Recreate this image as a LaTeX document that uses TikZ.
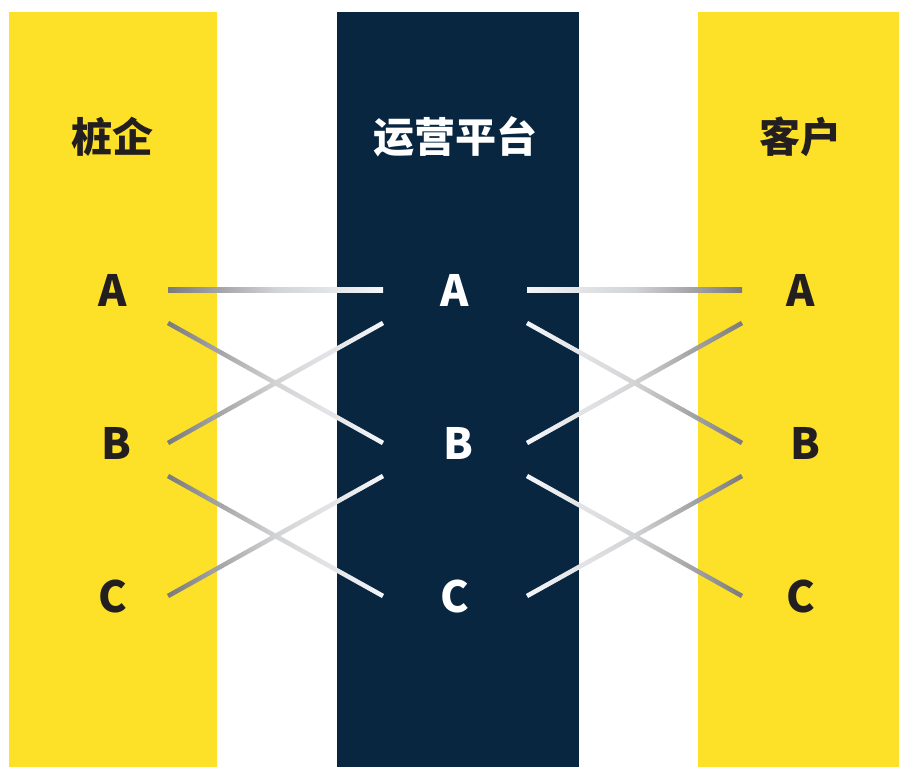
\documentclass[tikz,border=0pt]{standalone}
\usepackage{fontspec}
\newfontfamily\cjk{Noto Sans CJK SC}
\usetikzlibrary{calc}
\definecolor{ylw}{HTML}{FDE028}
\definecolor{navy}{HTML}{08263F}
\definecolor{ink}{HTML}{231F20}
\definecolor{lgray}{HTML}{7A7A7C}
\definecolor{lmid}{HTML}{D2D3D5}
\definecolor{lwhite}{HTML}{F3F5F8}
\newcommand{\gradlink}[4]{%
  \shade[left color=#3, right color=#4, middle color=lmid]
    ($(#1)!2.3pt!90:(#2)$) -- ($(#1)!2.3pt!-90:(#2)$) --
    ($(#2)!2.3pt!90:(#1)$) -- ($(#2)!2.3pt!-90:(#1)$) -- cycle;}
\begin{document}
\begin{tikzpicture}[x=1pt,y=-1pt,
  title/.style={font=\cjk\bfseries\fontsize{41}{41}\selectfont, inner sep=0pt},
  letter/.style={font=\cjk\bfseries\fontsize{43}{43}\selectfont, inner sep=0pt},
]
\useasboundingbox (0,0) rectangle (899,767);
\fill[white] (0,0) rectangle (899,767);
% columns
\fill[ylw]  (9,12)   rectangle (217,767);
\fill[navy] (337,12) rectangle (579,767);
\fill[ylw]  (698,12) rectangle (899,767);
% titles
\node[title, text=ink]   (tL) at (112,137) {桩企};
\node[title, text=white] (tM) at (455,137) {运营平台};
\node[title, text=ink]   (tR) at (800,137) {客户};
% letters
\node[letter, text=ink]   (LA) at (113,290) {A};
\node[letter, text=ink]   (LB) at (116,443) {B};
\node[letter, text=ink]   (LC) at (113,596) {C};
\node[letter, text=white] (MA) at (455,290) {A};
\node[letter, text=white] (MB) at (458,443) {B};
\node[letter, text=white] (MC) at (455,596) {C};
\node[letter, text=ink]   (RA) at (801,290) {A};
\node[letter, text=ink]   (RB) at (805,443) {B};
\node[letter, text=ink]   (RC) at (801,596) {C};
% connector end points
\coordinate (l1) at (168,290); \coordinate (l2) at (168,323);
\coordinate (l3) at (168,443); \coordinate (l4) at (168,476);
\coordinate (l5) at (168,596);
\coordinate (m1) at (383,290); \coordinate (m2) at (383,323);
\coordinate (m3) at (383,443); \coordinate (m4) at (383,476);
\coordinate (m5) at (383,596);
\coordinate (n1) at (527,290); \coordinate (n2) at (527,323);
\coordinate (n3) at (527,443); \coordinate (n4) at (527,476);
\coordinate (n5) at (527,596);
\coordinate (r1) at (742,290); \coordinate (r2) at (742,323);
\coordinate (r3) at (742,443); \coordinate (r4) at (742,476);
\coordinate (r5) at (742,596);
% left connectors
\gradlink{l1}{m1}{lgray}{lwhite}
\gradlink{l2}{m3}{lgray}{lwhite}
\gradlink{l3}{m2}{lgray}{lwhite}
\gradlink{l4}{m5}{lgray}{lwhite}
\gradlink{l5}{m4}{lgray}{lwhite}
% right connectors
\gradlink{n1}{r1}{lwhite}{lgray}
\gradlink{n2}{r3}{lwhite}{lgray}
\gradlink{n3}{r2}{lwhite}{lgray}
\gradlink{n4}{r5}{lwhite}{lgray}
\gradlink{n5}{r4}{lwhite}{lgray}
\end{tikzpicture}
\end{document}
